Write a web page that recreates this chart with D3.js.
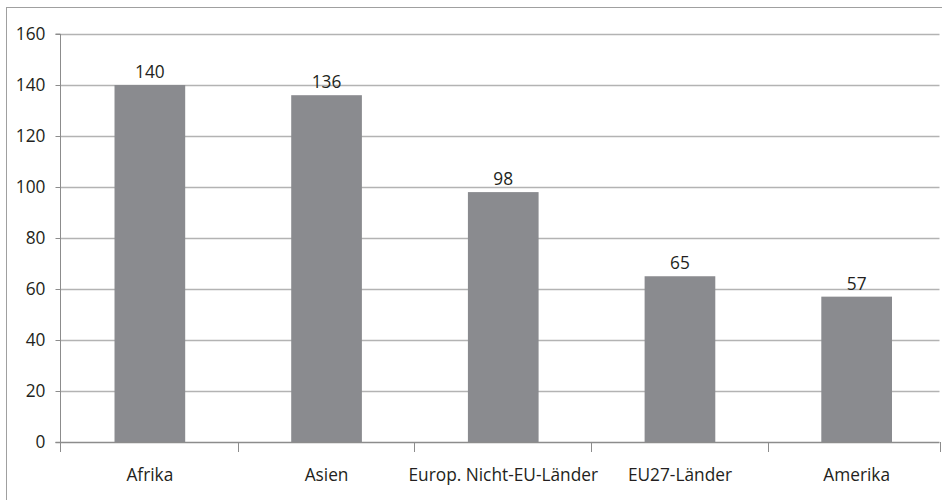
<!DOCTYPE html>
<html><head><meta charset="utf-8">
<script src="https://cdn.jsdelivr.net/npm/d3@7"></script>
<style>
html,body{margin:0;padding:0;background:#fff;}
svg{display:block;}
text{font-family:"Open Sans","Noto Sans",sans-serif;fill:#231f20;}
</style></head>
<body>
<script>
const categories = ["Afrika", "Asien", "Europ. Nicht-EU-Länder", "EU27-Länder", "Amerika"];
const values = [140, 136, 98, 65, 57];
const yTicks = [0, 20, 40, 60, 80, 100, 120, 140, 160];

const W = 942, H = 500;
const FS = 17.3;
const svg = d3.select("body").append("svg").attr("width", W).attr("height", H);

// outer frame
svg.append("rect").attr("x", 6.5).attr("y", 7.5).attr("width", 950).attr("height", 510)
  .attr("fill", "none").attr("stroke", "#a0a0a0").attr("stroke-width", 1);

const x0 = 60.5, x1 = 939.5;
const y = d3.scaleLinear().domain([0, 160]).range([442, 34]);
const x = d3.scaleBand().domain(categories).range([61.5, 945]).paddingInner(0.6).paddingOuter(0.3);

// gridlines
svg.append("g").selectAll("line").data(yTicks.filter(d => d > 0)).join("line")
  .attr("x1", x0).attr("x2", x1)
  .attr("y1", d => Math.round(y(d)) + 0.5).attr("y2", d => Math.round(y(d)) + 0.5)
  .attr("stroke", "#b3b3b3").attr("stroke-width", 1.3);

// bars
svg.append("g").selectAll("rect").data(values).join("rect")
  .attr("x", (d, i) => x(categories[i]))
  .attr("width", x.bandwidth())
  .attr("y", d => y(d))
  .attr("height", d => y(0) - y(d))
  .attr("fill", "#8a8b8f");

// value labels
svg.append("g").selectAll("text").data(values).join("text")
  .attr("x", (d, i) => x(categories[i]) + x.bandwidth() / 2)
  .attr("y", d => y(d) - 7)
  .attr("text-anchor", "middle")
  .attr("font-size", FS)
  .text(d => d);

// y axis
const yAxis = d3.axisLeft(y).tickValues(yTicks).tickSize(5).tickPadding(10);
const gy = svg.append("g").attr("transform", `translate(${x0},0)`).call(yAxis);
gy.select(".domain").attr("stroke", "#8c8c8c").attr("d", `M-5,${y(160)}H0V${y(0)+10}`);
gy.selectAll(".tick line").attr("stroke", "#8c8c8c");
gy.selectAll(".tick text").attr("font-size", FS).attr("fill", "#231f20")
  .attr("font-family", '"Open Sans","Noto Sans",sans-serif');

// x axis baseline
svg.append("line").attr("x1", x0 - 5).attr("x2", x1).attr("y1", y(0) + 0.5).attr("y2", y(0) + 0.5)
  .attr("stroke", "#8c8c8c").attr("stroke-width", 1.3);

// category separator ticks
const step = x.step();
const sepX = d3.range(1, categories.length).map(i => x(categories[i]) - step * x.paddingInner() / 2 - 0.5);
sepX.push(x1);
svg.append("g").selectAll("line").data(sepX).join("line")
  .attr("x1", d => Math.round(d) + 0.5).attr("x2", d => Math.round(d) + 0.5)
  .attr("y1", y(0)).attr("y2", y(0) + 10)
  .attr("stroke", "#8c8c8c");

// category labels
svg.append("g").selectAll("text").data(categories).join("text")
  .attr("x", d => x(d) + x.bandwidth() / 2)
  .attr("y", 481)
  .attr("text-anchor", "middle")
  .attr("font-size", FS)
  .text(d => d);
</script>
</body></html>
